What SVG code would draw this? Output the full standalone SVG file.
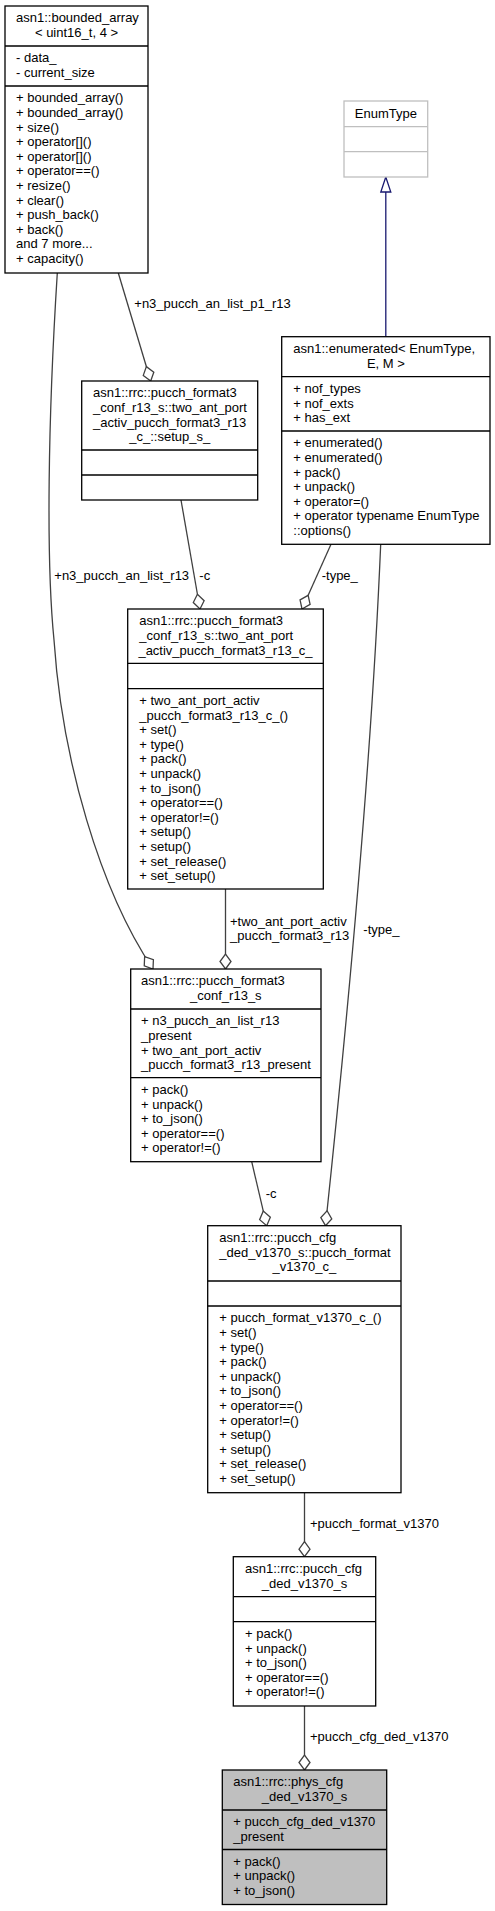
<svg xmlns="http://www.w3.org/2000/svg" width="495" height="1911" viewBox="0 0 495 1911">
<defs>
<style>
text{font-family:"Liberation Sans",Arial,Helvetica,sans-serif;font-size:13px;fill:#000}
.m{text-anchor:middle}
.box{fill:#fff;stroke:#000;stroke-width:1.3}
.gbox{fill:#fff;stroke:#bfbfbf;stroke-width:1.3}
.cur{fill:#bfbfbf;stroke:#000;stroke-width:1.3}
.sep{stroke:#000;stroke-width:1.3}
.gsep{stroke:#bfbfbf;stroke-width:1.3}
.edge{fill:none;stroke:#404040;stroke-width:1.3;marker-end:url(#dia)}
.inh{fill:none;stroke:#191970;stroke-width:1.3;marker-end:url(#tri)}
</style>
<marker id="dia" markerUnits="userSpaceOnUse" orient="auto" markerWidth="20" markerHeight="14" refX="16" refY="7" viewBox="0 0 20 14" overflow="visible">
<path d="M16,7 L8.5,1.5 L1,7 L8.5,12.5 Z" fill="#fff" stroke="#404040" stroke-width="1.3"/>
</marker>
<marker id="tri" markerUnits="userSpaceOnUse" orient="auto" markerWidth="20" markerHeight="14" refX="16" refY="7" viewBox="0 0 20 14" overflow="visible">
<path d="M16,7 L1,2 L1,12 Z" fill="#fff" stroke="#191970" stroke-width="1.3"/>
</marker>
</defs>
<rect width="495" height="1911" fill="#fff"/>

<g id="connectors">
<path class="inh" d="M385.8,336.7 L385.8,177"/>
<path class="edge" d="M118.3,273 L150.7,381"/>
<text x="134.3" y="307.8">+n3_pucch_an_list_p1_r13</text>
<path class="edge" d="M57.3,273 C48,420 46,560 54,640 C62,760 100,890 153,969"/>
<text x="54.3" y="579.5">+n3_pucch_an_list_r13</text>
<path class="edge" d="M181,500 L200,609"/>
<text x="199.3" y="579.5">-c</text>
<path class="edge" d="M331,544.3 L302,609"/>
<text x="321.7" y="579.5">-type_</text>
<path class="edge" d="M380.7,544.3 C375,680 360,900 325.5,1225.7"/>
<text x="363.3" y="933.8">-type_</text>
<path class="edge" d="M225.5,889 L225.5,969"/>
<text x="230" y="925.5">+two_ant_port_activ</text>
<text x="230" y="939.8">_pucch_format3_r13</text>
<path class="edge" d="M251.7,1161.7 L266.7,1225.7"/>
<text x="265.7" y="1197.8">-c</text>
<path class="edge" d="M304.5,1492.7 L304.5,1556.7"/>
<text x="310" y="1528">+pucch_format_v1370</text>
<path class="edge" d="M304.5,1706 L304.5,1770"/>
<text x="310" y="1741">+pucch_cfg_ded_v1370</text>
</g>

<g id="bounded_array">
<rect class="box" x="5" y="6" width="143" height="267"/>
<line class="sep" x1="5" y1="46" x2="148" y2="46"/>
<line class="sep" x1="5" y1="86" x2="148" y2="86"/>
<text x="16" y="22.3">asn1::bounded_array</text>
<text class="m" x="76.5" y="36.9">&lt; uint16_t, 4 &gt;</text>
<text x="16" y="62.3">- data_</text>
<text x="16" y="76.9">- current_size</text>
<text x="16" y="102.3">+ bounded_array()</text>
<text x="16" y="116.9">+ bounded_array()</text>
<text x="16" y="131.5">+ size()</text>
<text x="16" y="146.1">+ operator[]()</text>
<text x="16" y="160.7">+ operator[]()</text>
<text x="16" y="175.3">+ operator==()</text>
<text x="16" y="189.9">+ resize()</text>
<text x="16" y="204.5">+ clear()</text>
<text x="16" y="219.1">+ push_back()</text>
<text x="16" y="233.7">+ back()</text>
<text x="16" y="248.3">and 7 more...</text>
<text x="16" y="262.9">+ capacity()</text>
</g>

<g id="EnumType">
<rect class="gbox" x="344" y="101" width="83.7" height="76"/>
<line class="gsep" x1="344" y1="126.7" x2="427.7" y2="126.7"/>
<line class="gsep" x1="344" y1="151.7" x2="427.7" y2="151.7"/>
<text class="m" x="385.85" y="117.8">EnumType</text>
</g>

<g id="enumerated">
<rect class="box" x="281.7" y="336.7" width="208.3" height="207.6"/>
<line class="sep" x1="281.7" y1="376.7" x2="490" y2="376.7"/>
<line class="sep" x1="281.7" y1="431" x2="490" y2="431"/>
<text x="293.3" y="353">asn1::enumerated&lt; EnumType,</text>
<text class="m" x="385.85" y="367.6">E, M &gt;</text>
<text x="293.3" y="393">+ nof_types</text>
<text x="293.3" y="407.6">+ nof_exts</text>
<text x="293.3" y="422.2">+ has_ext</text>
<text x="293.3" y="447.3">+ enumerated()</text>
<text x="293.3" y="461.9">+ enumerated()</text>
<text x="293.3" y="476.5">+ pack()</text>
<text x="293.3" y="491.1">+ unpack()</text>
<text x="293.3" y="505.7">+ operator=()</text>
<text x="293.3" y="520.3">+ operator typename EnumType</text>
<text x="293.3" y="534.9">::options()</text>
</g>

<g id="setup_s">
<rect class="box" x="81.7" y="381" width="176" height="119"/>
<line class="sep" x1="81.7" y1="450" x2="257.7" y2="450"/>
<line class="sep" x1="81.7" y1="475" x2="257.7" y2="475"/>
<text x="93" y="397.3">asn1::rrc::pucch_format3</text>
<text x="93" y="411.9">_conf_r13_s::two_ant_port</text>
<text x="93" y="426.5">_activ_pucch_format3_r13</text>
<text class="m" x="169.7" y="441.1">_c_::setup_s_</text>
</g>

<g id="two_ant_port_activ_c">
<rect class="box" x="127.7" y="609" width="195.6" height="280"/>
<line class="sep" x1="127.7" y1="663.3" x2="323.3" y2="663.3"/>
<line class="sep" x1="127.7" y1="688.7" x2="323.3" y2="688.7"/>
<text x="139.3" y="625.3">asn1::rrc::pucch_format3</text>
<text x="139.3" y="639.9">_conf_r13_s::two_ant_port</text>
<text class="m" x="225.5" y="654.5">_activ_pucch_format3_r13_c_</text>
<text x="139.3" y="705">+ two_ant_port_activ</text>
<text x="139.3" y="719.6">_pucch_format3_r13_c_()</text>
<text x="139.3" y="734.2">+ set()</text>
<text x="139.3" y="748.8">+ type()</text>
<text x="139.3" y="763.4">+ pack()</text>
<text x="139.3" y="778">+ unpack()</text>
<text x="139.3" y="792.6">+ to_json()</text>
<text x="139.3" y="807.2">+ operator==()</text>
<text x="139.3" y="821.8">+ operator!=()</text>
<text x="139.3" y="836.4">+ setup()</text>
<text x="139.3" y="851">+ setup()</text>
<text x="139.3" y="865.6">+ set_release()</text>
<text x="139.3" y="880.2">+ set_setup()</text>
</g>

<g id="pucch_format3_conf_r13_s">
<rect class="box" x="130.7" y="969" width="190.3" height="192.7"/>
<line class="sep" x1="130.7" y1="1009" x2="321" y2="1009"/>
<line class="sep" x1="130.7" y1="1077.7" x2="321" y2="1077.7"/>
<text x="141" y="985.3">asn1::rrc::pucch_format3</text>
<text class="m" x="225.85" y="999.9">_conf_r13_s</text>
<text x="141" y="1025.3">+ n3_pucch_an_list_r13</text>
<text x="141" y="1039.9">_present</text>
<text x="141" y="1054.5">+ two_ant_port_activ</text>
<text x="141" y="1069.1">_pucch_format3_r13_present</text>
<text x="141" y="1094">+ pack()</text>
<text x="141" y="1108.6">+ unpack()</text>
<text x="141" y="1123.2">+ to_json()</text>
<text x="141" y="1137.8">+ operator==()</text>
<text x="141" y="1152.4">+ operator!=()</text>
</g>

<g id="pucch_format_v1370_c">
<rect class="box" x="207.7" y="1225.7" width="193.3" height="267"/>
<line class="sep" x1="207.7" y1="1281" x2="401" y2="1281"/>
<line class="sep" x1="207.7" y1="1306" x2="401" y2="1306"/>
<text x="219.3" y="1242">asn1::rrc::pucch_cfg</text>
<text x="219.3" y="1256.6">_ded_v1370_s::pucch_format</text>
<text class="m" x="304.35" y="1271.2">_v1370_c_</text>
<text x="219.3" y="1322.3">+ pucch_format_v1370_c_()</text>
<text x="219.3" y="1336.9">+ set()</text>
<text x="219.3" y="1351.5">+ type()</text>
<text x="219.3" y="1366.1">+ pack()</text>
<text x="219.3" y="1380.7">+ unpack()</text>
<text x="219.3" y="1395.3">+ to_json()</text>
<text x="219.3" y="1409.9">+ operator==()</text>
<text x="219.3" y="1424.5">+ operator!=()</text>
<text x="219.3" y="1439.1">+ setup()</text>
<text x="219.3" y="1453.7">+ setup()</text>
<text x="219.3" y="1468.3">+ set_release()</text>
<text x="219.3" y="1482.9">+ set_setup()</text>
</g>

<g id="pucch_cfg_ded_v1370_s">
<rect class="box" x="233.3" y="1556.7" width="142.4" height="149.3"/>
<line class="sep" x1="233.3" y1="1596.7" x2="375.7" y2="1596.7"/>
<line class="sep" x1="233.3" y1="1621.7" x2="375.7" y2="1621.7"/>
<text x="245" y="1573">asn1::rrc::pucch_cfg</text>
<text class="m" x="304.5" y="1587.6">_ded_v1370_s</text>
<text x="245" y="1638">+ pack()</text>
<text x="245" y="1652.6">+ unpack()</text>
<text x="245" y="1667.2">+ to_json()</text>
<text x="245" y="1681.8">+ operator==()</text>
<text x="245" y="1696.4">+ operator!=()</text>
</g>

<g id="phys_cfg_ded_v1370_s">
<rect class="cur" x="222.3" y="1770" width="164.4" height="134.5"/>
<line class="sep" x1="222.3" y1="1810" x2="386.7" y2="1810"/>
<line class="sep" x1="222.3" y1="1849.5" x2="386.7" y2="1849.5"/>
<text x="233.3" y="1786.3">asn1::rrc::phys_cfg</text>
<text class="m" x="304.5" y="1800.9">_ded_v1370_s</text>
<text x="233.3" y="1826.3">+ pucch_cfg_ded_v1370</text>
<text x="233.3" y="1840.9">_present</text>
<text x="233.3" y="1865.8">+ pack()</text>
<text x="233.3" y="1880.4">+ unpack()</text>
<text x="233.3" y="1895">+ to_json()</text>
</g>
</svg>
